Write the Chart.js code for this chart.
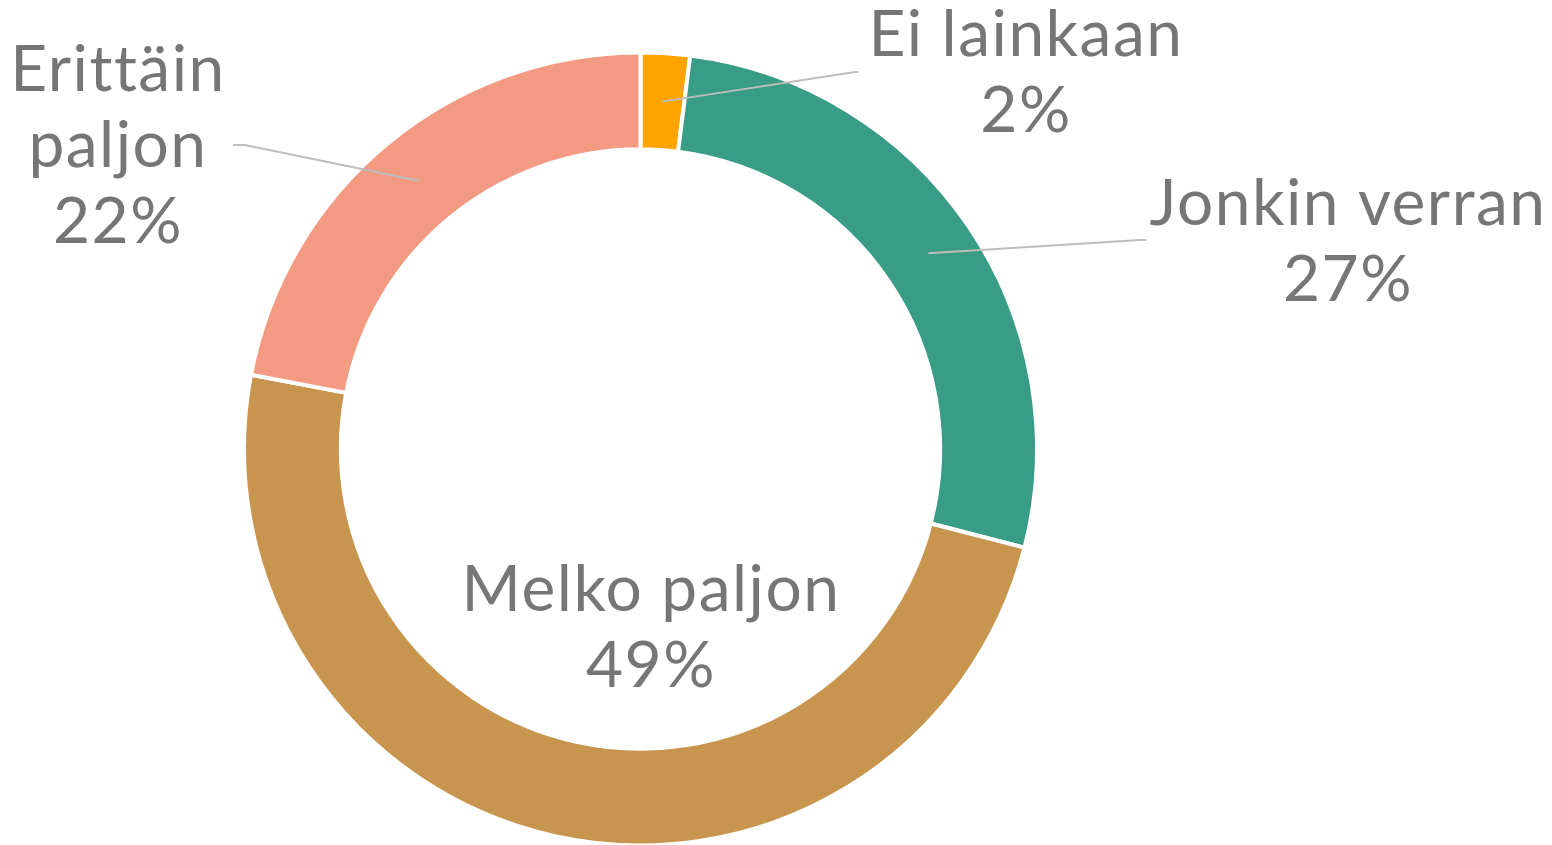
<!DOCTYPE html>
<html>
<head>
<meta charset="utf-8">
<script src="https://cdn.jsdelivr.net/npm/chart.js@4.4.0/dist/chart.umd.min.js"></script>
<style>
  html, body { margin: 0; padding: 0; background: #ffffff; }
  #wrap { width: 1552px; height: 845px; position: relative; }
</style>
</head>
<body>
<div id="wrap"><canvas id="chart"></canvas></div>
<script>
const categories = ["Ei lainkaan", "Jonkin verran", "Melko paljon", "Erittäin paljon"];
const shares = [2, 27, 49, 22];
const sliceColors = ["#ffa300", "#389c87", "#c8954f", "#f39a83"];

// where each label sits: text lines, centre x, first baseline, leader bend points
const labelLayout = [
    { lines: ["Ei lainkaan"], x: 1026, y: 56, leader: [[855, 72], [858, 72]] },
    { lines: ["Jonkin verran"], x: 1348, y: 225, leader: [[1140, 240], [1146, 240]] },
    { lines: ["Melko paljon"], x: 651, y: 611, leader: null },
    { lines: ["Erittäin", "paljon"], x: 118, y: 91, leader: [[245, 145], [233, 145]] }
];

const labelPlugin = {
    id: "sliceLabels",
    afterDatasetsDraw(chart) {
        const ctx = chart.ctx;
        const arcs = chart.getDatasetMeta(0).data;
        ctx.save();
        arcs.forEach((arc, i) => {
            const lay = labelLayout[i];
            const p = arc.getProps(["x", "y", "startAngle", "endAngle", "innerRadius", "outerRadius"], true);
            const mid = (p.startAngle + p.endAngle) / 2;
            const r = (p.innerRadius + p.outerRadius) / 2;
            if (lay.leader) {
                ctx.beginPath();
                ctx.moveTo(p.x + Math.cos(mid) * r, p.y + Math.sin(mid) * r);
                lay.leader.forEach(pt => ctx.lineTo(pt[0], pt[1]));
                ctx.strokeStyle = "#bdbdbd";
                ctx.lineWidth = 2;
                ctx.stroke();
            }
            ctx.fillStyle = "#767676";
            ctx.font = "64px Lato";
            ctx.letterSpacing = "1.5px";
            ctx.textAlign = "center";
            ctx.textBaseline = "alphabetic";
            const lines = lay.lines.concat([shares[i] + "%"]);
            lines.forEach((t, k) => ctx.fillText(t, lay.x, lay.y + k * 76));
        });
        ctx.restore();
    }
};

new Chart("chart", {
    type: "doughnut",
    data: {
        labels: categories,
        datasets: [{
            data: shares,
            backgroundColor: sliceColors,
            borderColor: "#ffffff",
            borderWidth: 4
        }]
    },
    options: {
        responsive: true,
        maintainAspectRatio: false,
        animation: false,
        radius: 396.5,
        cutout: 297,
        layout: { padding: { left: 245.5, right: 516.5, top: 54, bottom: 1 } },
        plugins: {
            legend: { display: false },
            tooltip: { enabled: false }
        }
    },
    plugins: [labelPlugin]
});
</script>
</body>
</html>
